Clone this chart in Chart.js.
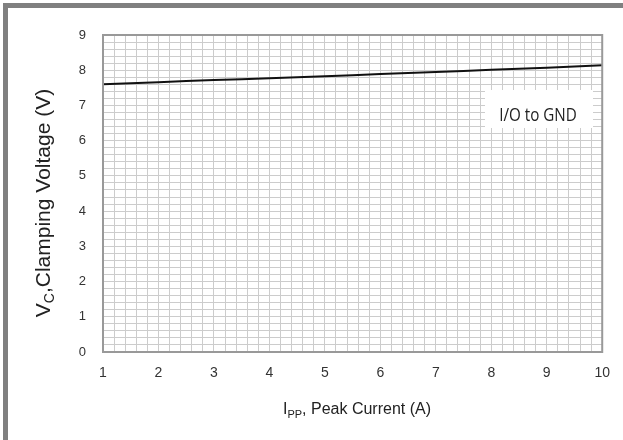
<!DOCTYPE html>
<html>
<head>
<meta charset="utf-8">
<script src="https://cdn.jsdelivr.net/npm/chart.js@4"></script>
<style>
  html, body { margin: 0; padding: 0; background: #fff; }
  #wrap { width: 623px; height: 440px; }
</style>
</head>
<body>
<div id="wrap"><canvas id="chart"></canvas></div>
<script>
// values
const peakCurrent = [1, 2, 3, 4, 5, 6, 7, 8, 9, 10];
const clampVoltage = [7.6, 7.66, 7.72, 7.77, 7.83, 7.89, 7.95, 8.01, 8.07, 8.14];
const xTicks = [1, 2, 3, 4, 5, 6, 7, 8, 9, 10];
const yTicks = [0, 1, 2, 3, 4, 5, 6, 7, 8, 9];
const seriesName = 'I/O to GND';

const isMajor = (v, list) => list.some(t => Math.abs(t - v) < 1e-6);

// draws text pieces [text, font, dy] starting at x
function drawParts(c, parts, x, y) {
  parts.forEach(p => {
    c.font = p[1];
    c.fillText(p[0], x, y + p[2]);
    x += c.measureText(p[0]).width;
  });
}
function partsWidth(c, parts) {
  let w = 0;
  parts.forEach(p => { c.font = p[1]; w += c.measureText(p[0]).width; });
  return w;
}

// outer frame, plot box, axis titles with subscripts, legend box
const decor = {
  id: 'decor',
  beforeDraw(chart) {
    const c = chart.ctx;
    c.save();
    c.fillStyle = '#fff';
    c.fillRect(0, 0, chart.width, chart.height);
    c.fillStyle = '#808080';
    c.fillRect(3, 3, 5, chart.height - 3);
    c.fillRect(3, 3, chart.width - 3, 5);
    c.restore();
  },
  afterDraw(chart) {
    const c = chart.ctx;
    const a = chart.chartArea;
    c.save();
    c.strokeStyle = '#999';
    c.lineWidth = 2;
    c.strokeRect(a.left, a.top, a.right - a.left, a.bottom - a.top);

    // legend box
    c.fillStyle = '#fff';
    c.fillRect(485, 90, 108, 38);
    c.fillStyle = '#222';
    c.textAlign = 'center';
    c.textBaseline = 'middle';
    c.save();
    c.translate(538, 116);
    c.scale(0.8, 1);
    c.font = '19px "Open Sans"';
    c.fillText(seriesName, 0, 0);
    c.restore();

    // x title
    c.fillStyle = '#222';
    c.textBaseline = 'alphabetic';
    c.textAlign = 'left';
    const xparts = [
      ['I', '16px "Liberation Sans"', 0],
      ['PP', '11px "Liberation Sans"', 4],
      [', Peak Current (A)', '16px "Liberation Sans"', 0]
    ];
    const xw = partsWidth(c, xparts);
    drawParts(c, xparts, 357 - xw / 2, 414);

    // y title
    c.translate(50, 203);
    c.rotate(-Math.PI / 2);
    const yparts = [
      ['V', '21px "Liberation Sans"', 0],
      ['C', '14px "Liberation Sans"', 4],
      [',Clamping Voltage (V)', '21px "Liberation Sans"', 0]
    ];
    const yw = partsWidth(c, yparts);
    drawParts(c, yparts, -yw / 2, 0);
    c.restore();
  }
};

new Chart(document.getElementById('chart'), {
  type: 'line',
  data: {
    datasets: [{
      label: seriesName,
      data: peakCurrent.map((v, i) => ({ x: v, y: clampVoltage[i] })),
      borderColor: '#111',
      borderWidth: 2,
      pointRadius: 0,
      tension: 0.3,
      fill: false
    }]
  },
  options: {
    responsive: true,
    maintainAspectRatio: false,
    animation: false,
    layout: { padding: { top: 35, right: 19, left: 0, bottom: 0 } },
    plugins: { legend: { display: false }, tooltip: { enabled: false } },
    scales: {
      x: {
        type: 'linear',
        min: 1, max: 10,
        afterFit(s) { s.height = 88; },
        border: { display: false },
        grid: { color: '#cccccc', lineWidth: 1, drawTicks: false },
        ticks: {
          stepSize: 0.2,
          autoSkip: false,
          maxRotation: 0,
          padding: 13,
          color: '#333',
          font: { family: 'Liberation Sans', size: 14 },
          callback: v => isMajor(v, xTicks) ? String(Math.round(v)) : ''
        }
      },
      y: {
        min: 0, max: 9,
        afterFit(s) { s.width = 103; },
        border: { display: false },
        grid: { color: '#cccccc', lineWidth: 1, drawTicks: false },
        ticks: {
          stepSize: 0.2,
          autoSkip: false,
          padding: 17,
          color: '#333',
          font: { family: 'Liberation Sans', size: 13 },
          callback: v => isMajor(v, yTicks) ? String(Math.round(v)) : ''
        }
      }
    }
  },
  plugins: [decor]
});
</script>
</body>
</html>
